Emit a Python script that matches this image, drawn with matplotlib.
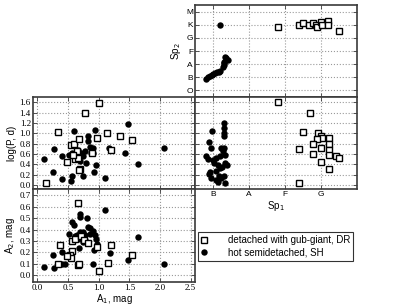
import matplotlib
matplotlib.use('Agg')
import matplotlib.pyplot as plt
from matplotlib.lines import Line2D

plt.rcParams['mathtext.fontset'] = 'dejavusans'

# ---------------- data ----------------
sp_names = ['O', 'B', 'A', 'F', 'G', 'K', 'M']
sp1_tick_pos = [1, 2, 3, 4]
sp1_tick_labels = ['B', 'A', 'F', 'G']

# middle-left: log P vs A1
ml_dr_a1 = [0.14, 0.34, 0.48, 0.55, 0.60, 0.68, 0.65, 0.61, 0.66, 0.69, 0.68, 0.78, 1.01, 0.98,
            1.14, 1.20, 1.34, 1.55, 0.89, 0.58]
ml_dr_logp = [0.04, 1.02, 0.45, 0.78, 0.79, 0.88, 0.66, 0.50, 0.52, 0.31, 0.28, 1.39, 1.59, 0.90,
              1.01, 0.67, 0.95, 0.87, 0.62, 0.57]
ml_sh_a1 = [0.11, 0.27, 0.26, 0.41, 0.41, 0.55, 0.57, 0.60, 0.52, 0.56, 0.58, 0.62, 0.64, 0.67,
            0.70, 0.72, 0.75, 0.75, 0.78, 0.80, 0.82, 0.82, 0.86, 0.90, 0.91, 0.88, 0.94, 0.96,
            0.93, 1.10, 1.17, 1.43, 1.48, 1.64, 2.07]
ml_sh_logp = [0.50, 0.70, 0.24, 0.12, 0.55, 0.08, 0.17, 1.04, 0.58, 0.62, 0.56, 0.52, 0.55, 0.68,
              0.46, 0.61, 0.17, 0.55, 0.65, 0.42, 0.95, 0.84, 0.74, 0.71, 0.61, 0.62, 1.07, 0.39,
              0.24, 0.14, 0.71, 0.61, 1.18, 0.40, 0.72]

# middle-right: log P vs Sp1
mr_dr_sp1 = [2.81, 3.70, 3.50, 3.91, 4.00, 4.02, 3.90, 4.21, 3.79, 4.21, 4.00, 4.21, 3.40, 3.79,
             4.21, 4.42, 4.50, 4.00, 4.21, 3.40]
mr_dr_logp = [1.60, 1.39, 1.03, 1.01, 0.95, 0.90, 0.88, 0.90, 0.79, 0.79, 0.72, 0.68, 0.69, 0.60,
              0.57, 0.56, 0.52, 0.45, 0.31, 0.04]
mr_sh_sp1 = [1.31, 1.31, 1.31, 1.31, 0.97, 0.89, 0.95, 1.23, 1.30, 1.28, 1.32, 0.80, 0.86, 1.00,
             1.09, 1.19, 1.02, 1.14, 1.32, 1.40, 1.26, 1.19, 0.91, 0.89, 1.17, 1.31, 1.07, 1.14,
             1.32, 1.09, 1.23, 0.95]
mr_sh_logp = [1.19, 1.10, 1.01, 0.94, 1.05, 0.82, 0.72, 0.71, 0.72, 0.65, 0.58, 0.55, 0.50, 0.48,
              0.52, 0.55, 0.42, 0.39, 0.42, 0.39, 0.35, 0.32, 0.25, 0.21, 0.17, 0.18, 0.10, 0.06,
              0.03, 0.27, 0.13, 0.14]

# top-right: Sp2 vs Sp1
tr_dr_sp1 = [2.80, 3.40, 3.51, 3.68, 3.79, 3.86, 3.90, 4.00, 4.02, 4.20, 4.20, 4.50]
tr_dr_sp2 = [4.81, 4.99, 5.11, 4.99, 5.11, 4.99, 4.81, 5.19, 4.99, 5.32, 4.99, 4.50]
tr_sh_sp1 = [1.20, 0.81, 0.86, 0.91, 0.96, 1.00, 1.06, 1.11, 1.16, 1.20, 1.30, 1.31, 1.31, 1.32,
             1.42, 1.36, 1.29]
tr_sh_sp2 = [4.99, 0.89, 0.99, 1.09, 1.18, 1.27, 1.33, 1.39, 1.43, 1.47, 1.90, 2.05, 2.20, 2.53,
             2.35, 2.45, 1.75]

# bottom-left: A2 vs A1
bl_dr_a1 = [0.66, 0.37, 0.57, 0.62, 0.71, 0.76, 0.83, 0.97, 1.20, 0.56, 0.54, 0.55, 0.48, 0.34,
            0.67, 0.68, 1.15, 1.01, 1.54]
bl_dr_a2 = [0.63, 0.26, 0.30, 0.32, 0.34, 0.31, 0.28, 0.25, 0.26, 0.21, 0.18, 0.15, 0.17, 0.10,
            0.09, 0.10, 0.11, 0.035, 0.18]
bl_sh_a1 = [0.11, 0.26, 0.27, 0.40, 0.41, 0.45, 0.52, 0.57, 0.60, 0.69, 0.69, 0.81, 0.70, 0.65,
            0.66, 0.68, 0.75, 0.83, 0.86, 0.91, 0.94, 0.96, 0.97, 0.92, 0.90, 1.10, 1.18, 1.48,
            1.64, 2.07, 0.62, 0.78, 0.86, 0.75, 0.78]
bl_sh_a2 = [0.07, 0.18, 0.06, 0.20, 0.10, 0.10, 0.36, 0.47, 0.44, 0.54, 0.51, 0.50, 0.38, 0.35,
            0.32, 0.24, 0.38, 0.42, 0.41, 0.39, 0.35, 0.32, 0.27, 0.22, 0.10, 0.57, 0.19, 0.13,
            0.33, 0.10, 0.34, 0.35, 0.36, 0.29, 0.31]

legend_labels = ['detached with gub-giant, DR', 'hot semidetached, SH']

# ---------------- figure ----------------
W, H = 406, 306
fig = plt.figure(figsize=(W / 100, H / 100), dpi=100)


def rect(x0, y0, x1, y1):
    return [x0 / W, 1 - y1 / H, (x1 - x0) / W, (y1 - y0) / H]


ax_tr = fig.add_axes(rect(195, 5, 357, 97))
ax_ml = fig.add_axes(rect(33, 97, 195, 189))
ax_mr = fig.add_axes(rect(195, 97, 357, 189))
ax_bl = fig.add_axes(rect(33, 189, 195, 282))

num_font = dict(family='Liberation Serif', size=6.5)
let_font = dict(family='Liberation Sans', size=6)
lab_font = dict(family='Liberation Sans', size=7)

sq = dict(marker='s', linestyle='none', ms=4.2, mfc='white', mec='black', mew=1.0)
ci = dict(marker='o', linestyle='none', ms=4.6, mfc='black', mec='black', mew=0)


def style(ax):
    for s in ax.spines.values():
        s.set_color('#3a3a3a')
        s.set_linewidth(1.2)
    ax.tick_params(direction='in', top=True, right=True, length=3, width=0.6,
                   color='#3a3a3a', pad=1.5)
    ax.grid(True, linestyle=':', color='#9a9a9a', linewidth=0.8)
    ax.set_axisbelow(True)


for ax in (ax_tr, ax_ml, ax_mr, ax_bl):
    style(ax)

# top-right
ax_tr.plot(tr_sh_sp1, tr_sh_sp2, **ci)
ax_tr.plot(tr_dr_sp1, tr_dr_sp2, **sq)
ax_tr.set_xlim(0.5, 5.0)
ax_tr.set_ylim(-0.5, 6.5)
ax_tr.set_xticks(sp1_tick_pos)
ax_tr.set_xticklabels([])
ax_tr.set_yticks(range(len(sp_names)))
ax_tr.set_yticklabels(sp_names, **let_font)
ax_tr.set_ylabel('Sp$_2$', **lab_font, labelpad=2)

# middle-left
ax_ml.plot(ml_sh_a1, ml_sh_logp, **ci)
ax_ml.plot(ml_dr_a1, ml_dr_logp, **sq)
ax_ml.set_xlim(-0.07, 2.57)
ax_ml.set_ylim(-0.08, 1.70)
ax_ml.set_xticks([0.0, 0.5, 1.0, 1.5, 2.0, 2.5])
ax_ml.set_xticklabels([])
yt = [0.0, 0.2, 0.4, 0.6, 0.8, 1.0, 1.2, 1.4, 1.6]
ax_ml.set_yticks(yt)
ax_ml.set_yticklabels(['%.1f' % v for v in yt], **num_font)
ax_ml.set_ylabel('log(P, d)', **lab_font, labelpad=2)

# middle-right
ax_mr.plot(mr_sh_sp1, mr_sh_logp, **ci)
ax_mr.plot(mr_dr_sp1, mr_dr_logp, **sq)
ax_mr.set_xlim(0.5, 5.0)
ax_mr.set_ylim(-0.08, 1.70)
ax_mr.set_yticks(yt)
ax_mr.set_yticklabels([])
ax_mr.set_xticks(sp1_tick_pos)
ax_mr.set_xticklabels(sp1_tick_labels, **let_font)
ax_mr.set_xlabel('Sp$_1$', **lab_font, labelpad=1)

# bottom-left
ax_bl.plot(bl_sh_a1, bl_sh_a2, **ci)
ax_bl.plot(bl_dr_a1, bl_dr_a2, **sq)
ax_bl.set_xlim(-0.07, 2.57)
ax_bl.set_ylim(-0.06, 0.755)
xt = [0.0, 0.5, 1.0, 1.5, 2.0, 2.5]
ax_bl.set_xticks(xt)
ax_bl.set_xticklabels(['%.1f' % v for v in xt], **num_font)
yt2 = [0.0, 0.1, 0.2, 0.3, 0.4, 0.5, 0.6, 0.7]
ax_bl.set_yticks(yt2)
ax_bl.set_yticklabels(['%.1f' % v for v in yt2], **num_font)
ax_bl.set_xlabel('A$_1$, mag', **lab_font, labelpad=0)
ax_bl.set_ylabel('A$_2$, mag', **lab_font, labelpad=2)

# legend
handles = [Line2D([], [], **sq), Line2D([], [], **ci)]
leg = fig.legend(handles, legend_labels, loc='upper left',
                 bbox_to_anchor=(198 / W, 1 - 232 / H), borderaxespad=0,
                 prop=dict(family='Liberation Sans', size=7), fancybox=False,
                 frameon=True, handlelength=0.6, handletextpad=2.2, borderpad=0.3,
                 labelspacing=0.3)
leg.get_frame().set_edgecolor('black')
leg.get_frame().set_linewidth(0.8)

fig.savefig('out.png', dpi=100)
